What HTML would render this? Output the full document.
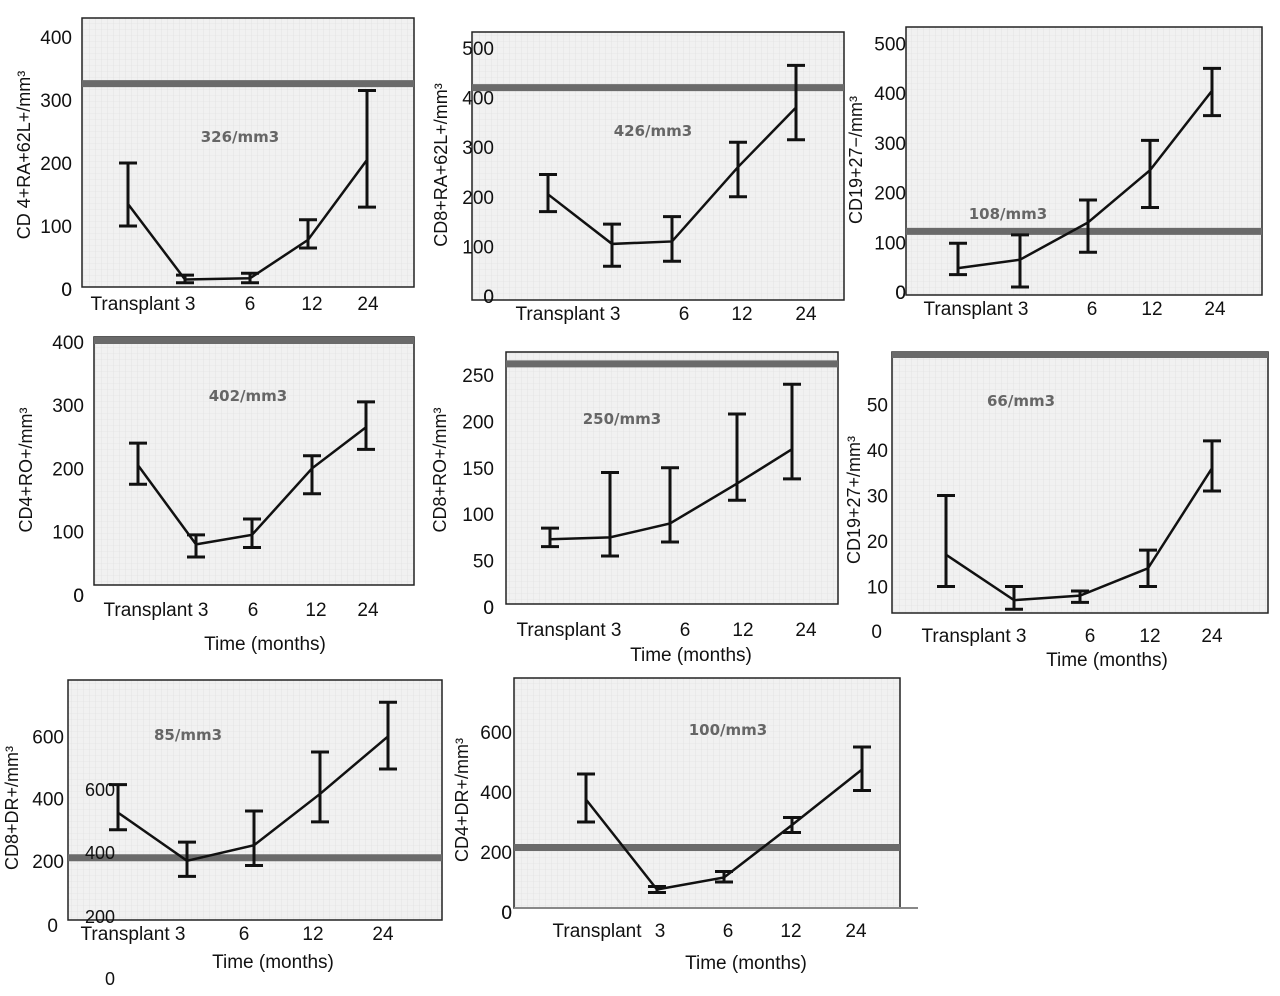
<!DOCTYPE html>
<html><head><meta charset="utf-8"><style>
html,body{margin:0;padding:0;background:#fff;width:1280px;height:996px;overflow:hidden}
svg text{font-family:"Liberation Sans Narrow","Liberation Sans",sans-serif;fill:#111}
</style></head><body>
<svg id="fig" width="1280" height="996" viewBox="0 0 1280 996" xmlns="http://www.w3.org/2000/svg">
<defs>
<pattern id="grid" width="6" height="6" patternUnits="userSpaceOnUse">
<rect width="6" height="6" fill="#f1f1f1"/>
<path d="M6 0V6M0 6H6" stroke="#dcdcdc" stroke-width="0.6"/>
</pattern>
</defs>
</svg>
<script>
const xCats=["Transplant","3","6","12","24"];
const p1Vals=[135,15,17,78,205], p1Lo=[100,10,10,65,130], p1Hi=[200,22,25,110,315], p1Ref=326, p1Ticks=[0,100,200,300,400];
const p2Vals=[205,105,110,260,380], p2Lo=[170,60,70,200,315], p2Hi=[245,145,160,310,465], p2Ref=420, p2Ticks=[0,100,200,300,400,500];
const p3Vals=[48,65,140,245,405], p3Lo=[35,10,80,170,355], p3Hi=[98,115,185,305,450], p3Ref=122, p3Ticks=[0,100,200,300,400,500];
const p4Vals=[205,80,95,200,265], p4Lo=[175,60,75,160,230], p4Hi=[240,95,120,220,305], p4Ref=402, p4Ticks=[0,100,200,300,400];
const p5Vals=[73,75,90,133,170], p5Lo=[65,55,70,115,138], p5Hi=[85,145,150,208,240], p5Ref=262, p5Ticks=[0,50,100,150,200,250];
const p6Vals=[17,7,8,14,36], p6Lo=[10,5,6.5,10,31], p6Hi=[30,10,9,18,42], p6Ref=61, p6Ticks=[10,20,30,40,50];
const p7Vals=[355,200,250,415,600], p7Lo=[300,150,185,325,495], p7Hi=[445,260,360,550,710], p7Ref=210, p7Ticks=[200,400,600];
const p8Vals=[375,75,115,290,475], p8Lo=[300,65,100,265,405], p8Hi=[460,85,135,315,550], p8Ref=215, p8Ticks=[0,200,400,600];

const panels=[
 {id:1,box:[82,18,414,287],y0:289,ppu:0.63,xs:[128,185,250,308,367],vals:p1Vals,lo:p1Lo,hi:p1Hi,ref:p1Ref,ticks:p1Ticks,tickX:72,ann:"326/mm3",annXY:[240,142],title:"CD 4+RA+62L+/mm\u00b3",titleXY:[30,155],xlY:310,xl:[[143,"Transplant 3"],[250,"6"],[312,"12"],[368,"24"]]},
 {id:2,box:[472,32,844,300],y0:296,ppu:0.496,xs:[548,612,672,738,796],vals:p2Vals,lo:p2Lo,hi:p2Hi,ref:p2Ref,ticks:p2Ticks,tickX:494,ann:"426/mm3",annXY:[653,136],title:"CD8+RA+62L+/mm\u00b3",titleXY:[447,165],xlY:320,xl:[[568,"Transplant 3"],[684,"6"],[742,"12"],[806,"24"]]},
 {id:3,box:[906,27,1262,295],y0:292,ppu:0.497,xs:[958,1020,1088,1150,1212],vals:p3Vals,lo:p3Lo,hi:p3Hi,ref:p3Ref,ticks:p3Ticks,tickX:906,ann:"108/mm3",annXY:[1008,219],title:"CD19+27\u2212/mm\u00b3",titleXY:[862,160],xlY:315,xl:[[976,"Transplant 3"],[1092,"6"],[1152,"12"],[1215,"24"]]},
 {id:4,box:[94,337,414,585],y0:595,ppu:0.633,xs:[138,196,252,312,366],vals:p4Vals,lo:p4Lo,hi:p4Hi,ref:p4Ref,ticks:p4Ticks,tickX:84,ann:"402/mm3",annXY:[248,401],title:"CD4+RO+/mm\u00b3",titleXY:[32,470],xlY:616,xl:[[156,"Transplant 3"],[253,"6"],[316,"12"],[368,"24"]],xt:[265,650]},
 {id:5,box:[506,352,838,604],y0:607,ppu:0.928,xs:[550,610,670,737,792],vals:p5Vals,lo:p5Lo,hi:p5Hi,ref:p5Ref,ticks:p5Ticks,tickX:494,ann:"250/mm3",annXY:[622,424],title:"CD8+RO+/mm\u00b3",titleXY:[446,470],xlY:636,xl:[[569,"Transplant 3"],[685,"6"],[743,"12"],[806,"24"]],xt:[691,661]},
 {id:6,box:[892,352,1268,613],y0:632,ppu:4.55,xs:[946,1014,1080,1148,1212],vals:p6Vals,lo:p6Lo,hi:p6Hi,ref:p6Ref,ticks:p6Ticks,tickX:888,ann:"66/mm3",annXY:[1021,406],title:"CD19+27+/mm\u00b3",titleXY:[860,500],xlY:642,xl:[[974,"Transplant 3"],[1090,"6"],[1150,"12"],[1212,"24"]],xt:[1107,666],zeroXY:[882,638]},
 {id:7,box:[68,680,442,920],y0:923,ppu:0.311,xs:[118,187,254,320,388],vals:p7Vals,lo:p7Lo,hi:p7Hi,ref:p7Ref,ticks:p7Ticks,tickX:64,ann:"85/mm3",annXY:[188,740],title:"CD8+DR+/mm\u00b3",titleXY:[18,808],xlY:940,xl:[[133,"Transplant 3"],[244,"6"],[313,"12"],[383,"24"]],xt:[273,968],zeroXY:[58,932]},
 {id:8,box:[514,678,900,908],y0:912,ppu:0.3,xs:[586,657,724,792,862],vals:p8Vals,lo:p8Lo,hi:p8Hi,ref:p8Ref,ticks:p8Ticks,tickX:512,ann:"100/mm3",annXY:[728,735],title:"CD4+DR+/mm\u00b3",titleXY:[468,800],xlY:937,xl:[[597,"Transplant"],[660,"3"],[728,"6"],[791,"12"],[856,"24"]],xt:[746,969]}
];
const svg=document.getElementById('fig');
const NS="http://www.w3.org/2000/svg";
function mk(tag,attrs,parent){const e=document.createElementNS(NS,tag);for(const k in attrs)e.setAttribute(k,attrs[k]);(parent||svg).appendChild(e);return e;}
function txt(x,y,s,size,parent,anchor){const t=mk('text',{x:x,y:y,'font-size':size,'text-anchor':anchor||'middle'},parent);t.textContent=s;return t;}
panels.forEach(p=>{
 const g=mk('g',{});
 
 
 const yS=v=>p.y0-v*p.ppu;
 const [x1,y1,x2,y2]=p.box;
 const bg=mk('rect',{x:x1,y:y1,width:x2-x1,height:y2-y1,fill:'url(#grid)',stroke:'#222','stroke-width':1.5},g);
 
 
 p.ticks.forEach(t=>{const e=txt(p.tickX,yS(t)+7,String(t),19,g,'end');
  
  });
 if(p.zeroXY){const z=txt(p.zeroXY[0],p.zeroXY[1],"0",19,g,'end');}
 else{const z=txt(p.tickX,p.y0+7,"0",19,g,'end');}
 const rl=mk('line',{x1:x1,x2:x2,y1:yS(p.ref),y2:yS(p.ref),stroke:'#6a6a6a','stroke-width':7},g);
 
 
 const pts=p.vals.map((v,i)=>p.xs[i]+','+yS(v)).join(' ');
 const ln=mk('polyline',{points:pts,fill:'none',stroke:'#111','stroke-width':2.5},g);
 
 
 p.vals.forEach((v,i)=>{const x=p.xs[i];
  const eb=mk('path',{d:`M${x} ${yS(p.lo[i])}V${yS(p.hi[i])}M${x-9} ${yS(p.lo[i])}H${x+9}M${x-9} ${yS(p.hi[i])}H${x+9}`,stroke:'#111','stroke-width':3,fill:'none'},g);
  
  });
 const an=txt(p.annXY[0],p.annXY[1],p.ann,17,g);
 an.setAttribute('font-weight','bold');an.setAttribute('style','fill:#666;font-family:"DejaVu Sans",sans-serif;font-size:15px');
 
 
 const ti=txt(0,0,p.title,18,g);
 ti.setAttribute('transform',`translate(${p.titleXY[0]},${p.titleXY[1]}) rotate(-90)`);
 
 
 p.xl.forEach(l=>{const e=txt(l[0],p.xlY,l[1],19,g);
  
  });
 if(p.xt){const e=txt(p.xt[0],p.xt[1],"Time (months)",19,g);
  
  }
});
[["600",790],["400",853],["200",917]].forEach(s=>{const e=txt(100,s[1]+6,s[0],18,svg,'middle');
 
 });
const z0=txt(110,985,"0",18,svg);


const ax8=mk('line',{x1:514,x2:918,y1:908,y2:908,stroke:'#888','stroke-width':2});


</script>
</body></html>
